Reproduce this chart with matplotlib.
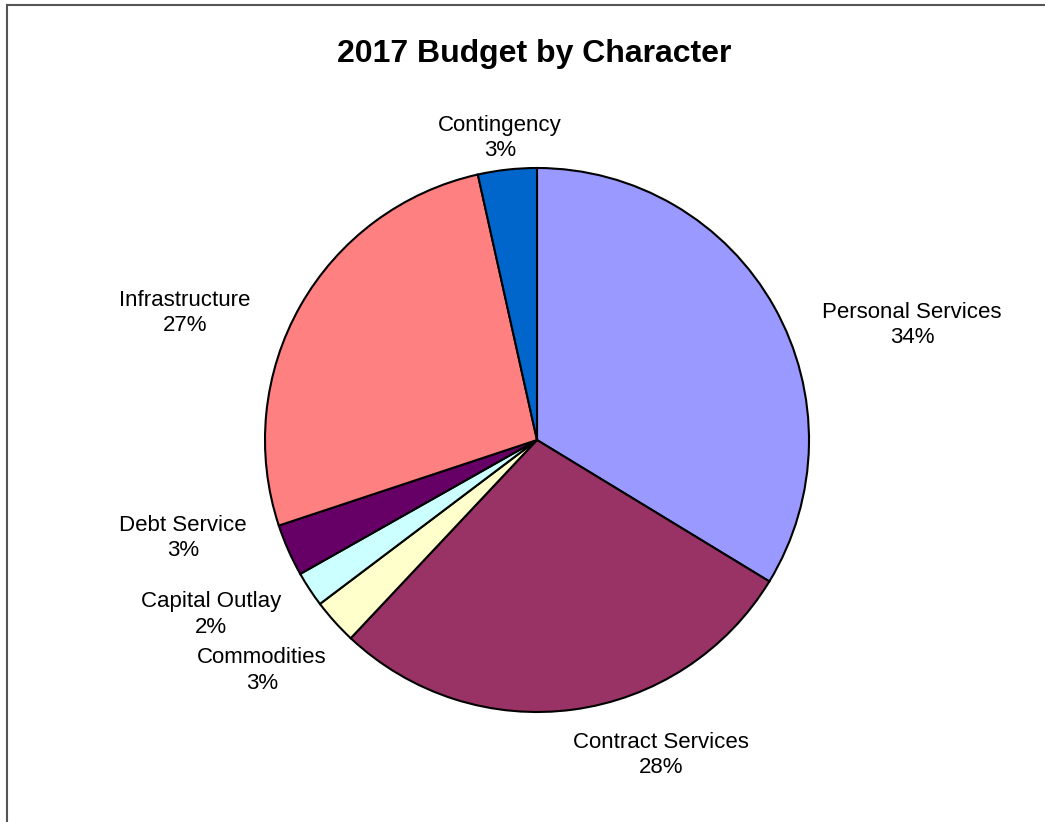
import matplotlib
matplotlib.use("Agg")
import matplotlib.pyplot as plt
from matplotlib.lines import Line2D

categories = ["Personal Services", "Contract Services", "Commodities", "Capital Outlay",
              "Debt Service", "Infrastructure", "Contingency"]
shares = [33.7, 28.3, 2.7, 2.1, 3.1, 26.6, 3.49]
colors = ["#9999FF", "#993366", "#FFFFCC", "#CCFFFF", "#660066", "#FF8080", "#0066CC"]
# label anchor points, in pie-radius units
label_xy = [(1.379, 0.423), (0.456, -1.158), (-1.011, -0.846), (-1.199, -0.643),
            (-1.301, -0.360), (-1.294, 0.467), (-0.136, 1.110)]

plt.rcParams["font.family"] = ["Liberation Sans", "DejaVu Sans"]

W, H = 1045, 822
fig = plt.figure(figsize=(W / 100, H / 100), dpi=100)
fig.patch.set_facecolor("white")

cx, cy, r = 537, 440, 272
ax = fig.add_axes([(cx - r) / W, (H - cy - r) / H, 2 * r / W, 2 * r / H])
ax.pie(shares, colors=colors, startangle=90, counterclock=False, radius=1,
       wedgeprops=dict(edgecolor="black", linewidth=1.5))
ax.set_xlim(-1, 1)
ax.set_ylim(-1, 1)
ax.set_aspect("equal")
ax.axis("off")

for name, val, (x, y) in zip(categories, shares, label_xy):
    ax.text(x, y, f"{name}\n{round(val):.0f}%", ha="center", va="center",
            fontsize=16, linespacing=1.3, clip_on=False)

fig.text(534 / W, 1 - 54 / H, "2017 Budget by Character", ha="center", va="center",
         fontsize=23, fontweight="bold")

# chart frame: top and left edges
fig.add_artist(Line2D([7 / W, 1.0], [1 - 5 / H, 1 - 5 / H], color="#555555", linewidth=1.5))
fig.add_artist(Line2D([7 / W, 7 / W], [0, 1 - 5 / H], color="#555555", linewidth=1.5))

fig.savefig("out.png", dpi=100)
